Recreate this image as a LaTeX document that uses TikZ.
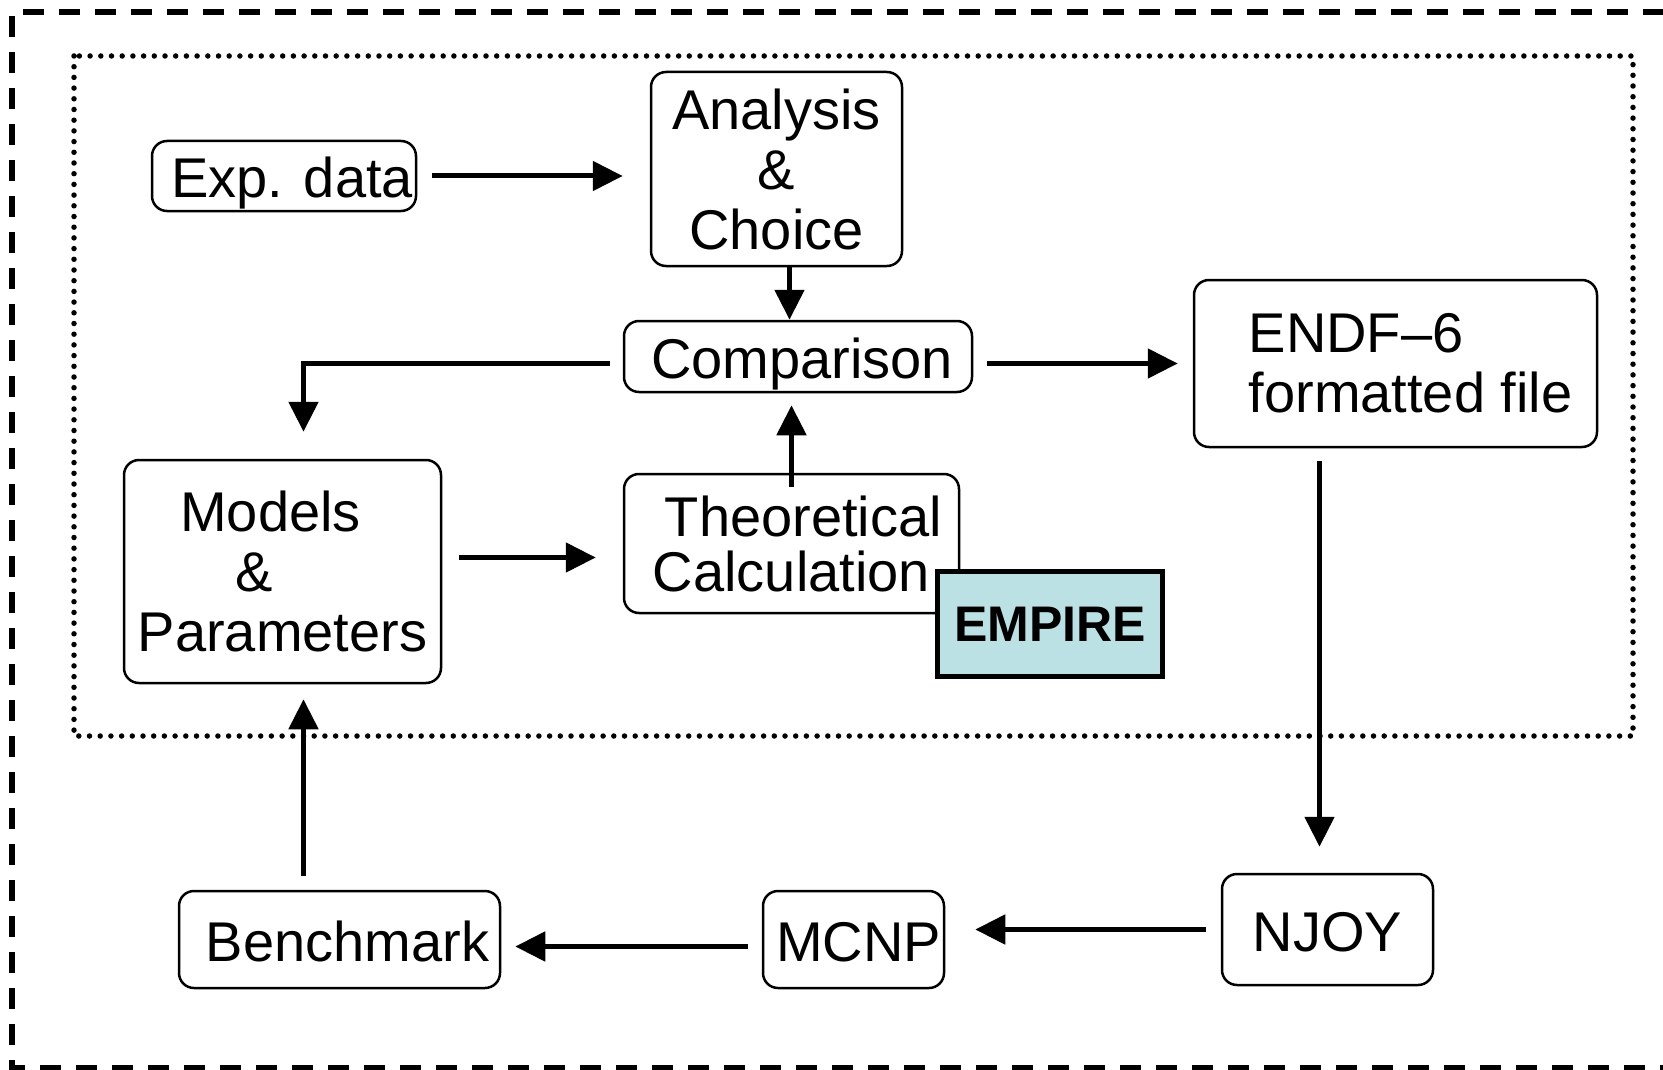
\documentclass[tikz,border=0pt]{standalone}
\usepackage{fontspec}
\setmainfont{Liberation Sans}
\usetikzlibrary{arrows.meta}
\definecolor{empirefill}{RGB}{188,225,228}
\tikzset{
  flowbox/.style={draw, rounded corners=15pt, line width=2.5pt, inner sep=0pt, align=center, font=\fontsize{56}{60}\selectfont},
  oneline/.style={text height=43pt, text depth=0pt},
  flowarrow/.style={line width=5pt, -{Triangle[length=30pt,width=29pt]}},
}
\begin{document}
\begin{tikzpicture}[x=1pt,y=-1pt]
  \useasboundingbox (0,0) rectangle (1663,1070);
  \draw[line width=5.5pt, dash pattern=on 21pt off 15pt] (1700,12) -- (12,12) -- (12,1068) -- (1700,1068);
  \draw[line width=5.5pt, line cap=round, dash pattern=on 0pt off 10.7pt] (74,56) rectangle (1633,736);

  \node[flowbox, oneline, minimum width=264pt, minimum height=70pt] (exp) at (284,176) {\hspace*{16pt}Exp. data};
  \node[flowbox, minimum width=251pt, minimum height=194pt] (ana) at (776.5,169) {Analysis\\\&\\Choice};
  \node[flowbox, oneline, minimum width=348pt, minimum height=71pt] (comp) at (798,356.5) {\hspace*{8pt}Comparison};
  \node[flowbox, minimum width=403pt, minimum height=167pt, align=left] (endf) at (1395.5,363.5) {\hspace*{30pt}ENDF--6\\\hspace*{30pt}formatted file};
  \node[flowbox, minimum width=317pt, minimum height=223pt] (models) at (282.5,571.5) {Models\hspace*{24pt}\\\hbox to 94pt{\&\hfil}\\Parameters};
  \node[flowbox, minimum width=335pt, minimum height=139pt, font=\fontsize{56}{55}\selectfont] (theo) at (791.5,543.5) {\hspace*{24pt}Theoretical\\Calculation};
  \node[draw, line width=5pt, fill=empirefill, inner sep=0pt, minimum width=225pt, minimum height=105pt, font=\bfseries\fontsize{50}{60}\selectfont] (empire) at (1050,624) {EMPIRE};
  \node[flowbox, oneline, minimum width=211pt, minimum height=111pt] (njoy) at (1327.5,929.5) {NJOY};
  \node[flowbox, oneline, minimum width=181pt, minimum height=97pt] (mcnp) at (853.5,939.5) {\hspace*{10pt}MCNP};
  \node[flowbox, oneline, minimum width=321pt, minimum height=97pt] (bench) at (339.5,939.5) {\hspace*{16pt}Benchmark};

  \draw[flowarrow, shorten <=15pt, shorten >=27pt] (exp.east) -- (exp.east -| ana.west);
  \draw[flowarrow] ([xshift=13pt]ana.south) -- ([xshift=13pt]ana.south |- comp.north);
  \draw[flowarrow, shorten <=-14pt, shorten >=12pt] (theo.north) -- (theo.north |- comp.south);
  \draw[flowarrow, shorten <=13pt, shorten >=27pt] ([yshift=-7pt]comp.west) -| ([xshift=21pt]models.north);
  \draw[flowarrow, shorten <=14pt, shorten >=15pt] ([yshift=-7pt]comp.east) -- ([yshift=-7pt]comp.east -| endf.west);
  \draw[flowarrow, shorten <=17pt, shorten >=27pt] ([yshift=-14pt]theo.west -| models.east) -- ([yshift=-14pt]theo.west);
  \draw[flowarrow, shorten <=13pt, shorten >=26pt] ([xshift=-8pt]endf.south -| njoy.north) -- ([xshift=-8pt]njoy.north);
  \draw[flowarrow, shorten <=15pt, shorten >=30pt] (njoy.west) -- (njoy.west -| mcnp.east);
  \draw[flowarrow, shorten <=14pt, shorten >=14pt] ([yshift=-7pt]mcnp.west) -- ([yshift=-7pt]mcnp.west -| bench.east);
  \draw[flowarrow, shorten <=14pt, shorten >=15pt] ([xshift=21pt]models.south |- bench.north) -- ([xshift=21pt]models.south);
\end{tikzpicture}
\end{document}
